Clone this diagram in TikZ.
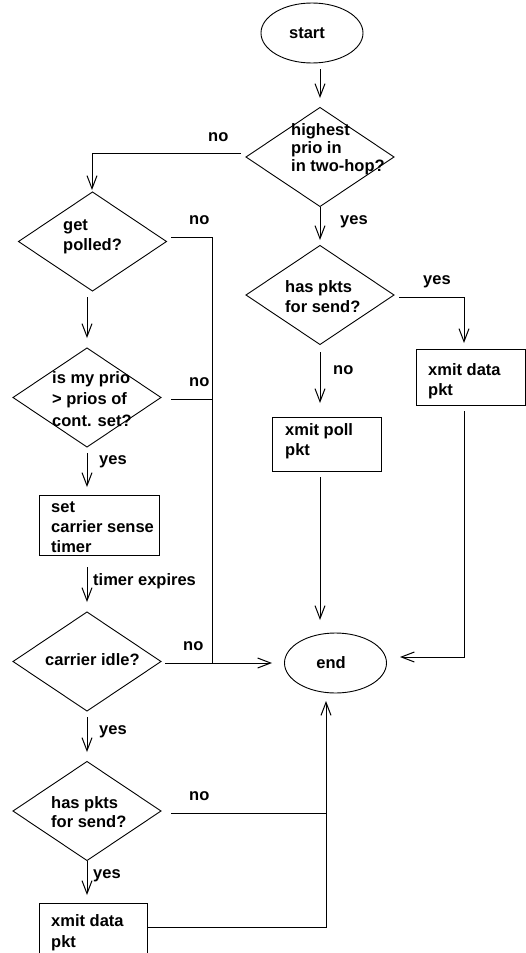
\documentclass[tikz,border=0pt]{standalone}
\usepackage{fontspec}
\setmainfont{Liberation Sans}
\usetikzlibrary{shapes.geometric,arrows.meta}
\begin{document}
\begin{tikzpicture}[x=1pt,y=-1pt,
  shp/.style={draw, line width=0.9pt, inner sep=0pt, outer sep=0pt},
  dia/.style={shp, diamond, minimum width=148pt, minimum height=99pt},
  ell/.style={shp, ellipse, minimum width=102pt, minimum height=60pt, font=\fontsize{16.5}{20}\selectfont\bfseries},
  boxa/.style={shp, rectangle},
  txt/.style={font=\fontsize{16.5}{20}\selectfont\bfseries, align=left, inner sep=0pt, anchor=north west},
  lbl/.style={font=\fontsize{16.5}{20}\selectfont\bfseries, inner sep=0pt, anchor=base west},
  ln/.style={line width=1pt},
  arr/.style={line width=1pt, -{Straight Barb[length=13pt,width=10pt]}}
]
\useasboundingbox (0,0) rectangle (526,953);
\clip (0,0) rectangle (526,953);

% shapes
\node[ell] (start) at (312,33) {};
\node[lbl, anchor=center] (startT) at (307,33) {start};
\node[dia] (d1) at (320,157) {};
\node[dia] (d2) at (320,295) {};
\node[boxa, minimum width=109pt, minimum height=56pt] (bR) at (470.5,377) {};
\node[boxa, minimum width=109pt, minimum height=54pt] (bP) at (326.5,444) {};
\node[ell] (end) at (335.5,663) {};
\node[lbl, anchor=center] (endT) at (331,663) {end};
\node[dia] (d3) at (92.5,241.5) {};
\node[dia] (d4) at (87,397.5) {};
\node[boxa, minimum width=120pt, minimum height=60pt] (bS) at (99,525) {};
\node[dia] (d5) at (87,661.5) {};
\node[dia] (d6) at (87,811) {};
\node[boxa, minimum width=108pt, minimum height=90pt] (bB) at (93,948) {};

% texts
\node[txt, font=\fontsize{16.5}{18}\selectfont\bfseries] (t1) at (291,123) {highest\\prio in\\in two-hop?};
\node[txt] (t2) at (285,280) {has pkts\\for send?};
\node[txt] (t3) at (428,363) {xmit data\\pkt};
\node[txt] (t4) at (285,423) {xmit poll\\pkt};
\node[txt] (t5) at (63,220) {get\\polled?};
\node[txt, font=\fontsize{16.5}{21.5}\selectfont\bfseries] (t6) at (52,371) {is my prio\\> prios of\\cont. set?};
\node[txt] (t7) at (51,502) {set\\carrier sense\\timer};
\node[txt] (t8) at (45,653) {carrier idle?};
\node[txt, font=\fontsize{16.5}{19}\selectfont\bfseries] (t9) at (51,796) {has pkts\\for send?};
\node[txt, font=\fontsize{16.5}{21}\selectfont\bfseries] (t10) at (51,914) {xmit data\\pkt};

% labels
\node[lbl] (l1) at (208,141) {no};
\node[lbl] (l2) at (340,224) {yes};
\node[lbl] (l3) at (423,284) {yes};
\node[lbl] (l4) at (333,374) {no};
\node[lbl] (l5) at (189,224) {no};
\node[lbl] (l6) at (189,386) {no};
\node[lbl] (l7) at (99,464) {yes};
\node[lbl] (l8) at (93,585) {timer expires};
\node[lbl] (l9) at (183,650) {no};
\node[lbl] (l10) at (99,734) {yes};
\node[lbl] (l11) at (189,800) {no};
\node[lbl] (l12) at (93,878) {yes};

% connector end points
\coordinate (a1s) at (320,69);   \coordinate (a1e) at (320,98);
\coordinate (a2e) at (320,240);
\coordinate (n1s) at (241,153);  \coordinate (n1c) at (92,153);  \coordinate (n1e) at (92,190);
\coordinate (y1s) at (399,297);  \coordinate (y1c) at (464,297); \coordinate (y1e) at (464,343);
\coordinate (n2s) at (320,352);  \coordinate (n2e) at (320,403);
\coordinate (p1s) at (320,477);  \coordinate (p1e) at (320,620);
\coordinate (r1s) at (464,411);  \coordinate (r1c) at (464,657); \coordinate (r1e) at (400,657);
\coordinate (n3s) at (171,237);  \coordinate (jt) at (212,237);
\coordinate (n4s) at (171,399);  \coordinate (j4) at (212,399);
\coordinate (n5s) at (165,663);  \coordinate (j5) at (212,663); \coordinate (n5e) at (272,663);
\coordinate (a3s) at (87,297);   \coordinate (a3e) at (87,338);
\coordinate (a4s) at (87,453);   \coordinate (a4e) at (87,487);
\coordinate (a5s) at (87,567);   \coordinate (a5e) at (87,602);
\coordinate (a6s) at (87,717);   \coordinate (a6e) at (87,752);
\coordinate (a7e) at (87,895);
\coordinate (n6s) at (171,813);  \coordinate (j6) at (326,813);
\coordinate (b1s) at (bB.east |- 0,927); \coordinate (b1c) at (326,927); \coordinate (b1e) at (326,701);

% connectors
\draw[arr] (a1s) -- (a1e);
\draw[arr] (d1.south) -- (a2e);
\draw[arr] (n1s) -- (n1c) -- (n1e);
\draw[arr] (y1s) -- (y1c) -- (y1e);
\draw[arr] (n2s) -- (n2e);
\draw[arr] (p1s) -- (p1e);
\draw[arr] (r1s) -- (r1c) -- (r1e);
\draw[ln] (n3s) -- (jt) -- (j5);
\draw[ln] (n4s) -- (j4);
\draw[arr] (n5s) -- (n5e);
\draw[arr] (a3s) -- (a3e);
\draw[arr] (a4s) -- (a4e);
\draw[arr] (a5s) -- (a5e);
\draw[arr] (a6s) -- (a6e);
\draw[arr] (d6.south) -- (a7e);
\draw[ln] (n6s) -- (j6);
\draw[arr] (b1s) -- (b1c) -- (b1e);
\end{tikzpicture}
\end{document}
